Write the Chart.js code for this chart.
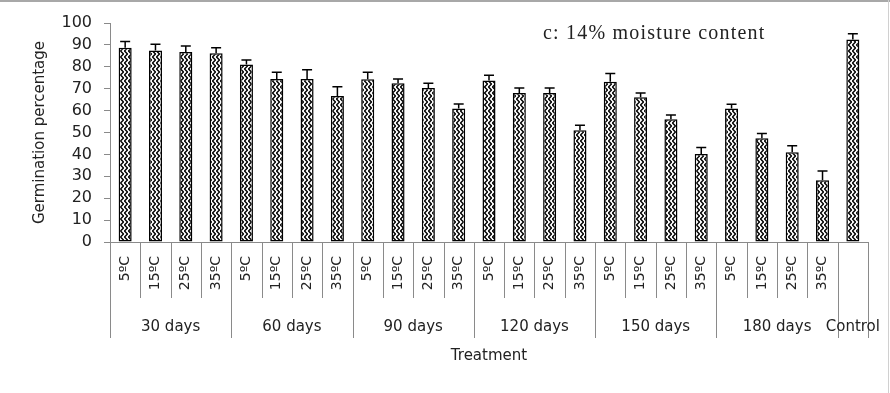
<!DOCTYPE html>
<html>
<head>
<meta charset="utf-8">
<script src="https://cdn.jsdelivr.net/npm/chart.js@4/dist/chart.umd.min.js"></script>
<style>
  html, body { margin: 0; padding: 0; background: #fff; }
  #wrap { width: 890px; height: 393px; }
</style>
</head>
<body>
<div id="wrap"><canvas id="germChart" width="890" height="393"></canvas></div>
<script>
// Data
const tempLabels = ['5ºC', '15ºC', '25ºC', '35ºC', '5ºC', '15ºC', '25ºC', '35ºC', '5ºC', '15ºC', '25ºC', '35ºC',
  '5ºC', '15ºC', '25ºC', '35ºC', '5ºC', '15ºC', '25ºC', '35ºC', '5ºC', '15ºC', '25ºC', '35ºC', ''];
const groupNames = ['30 days', '60 days', '90 days', '120 days', '150 days', '180 days', 'Control'];
const groupSizes = [4, 4, 4, 4, 4, 4, 1];
const germination = [88.7, 87.5, 86.8, 86.2, 81.1, 74.4, 74.4, 66.7, 74.3, 72.5, 70.3, 61.0,
  73.7, 68.0, 68.0, 51.0, 73.2, 66.1, 56.0, 40.2, 61.0, 47.4, 41.0, 28.2, 92.5];
const errors = [2.9, 2.8, 2.7, 2.5, 2.0, 3.1, 4.3, 4.2, 3.2, 1.9, 2.2, 2.0,
  2.4, 2.3, 2.3, 2.3, 3.7, 1.9, 2.0, 3.0, 1.9, 2.1, 3.0, 4.2, 2.6];
const yTicks = [0, 10, 20, 30, 40, 50, 60, 70, 80, 90, 100];

const textColor = '#222';
const axisColor = '#8a8a8a';

// zigzag hatch fill like the original
function makeHatch() {
  const c = document.createElement('canvas');
  c.width = 4;
  c.height = 6;
  const g = c.getContext('2d');
  g.fillStyle = '#fff';
  g.fillRect(0, 0, 4, 6);
  g.strokeStyle = '#000';
  g.lineWidth = 1.4;
  g.beginPath();
  g.moveTo(0.5, -3); g.lineTo(3.5, 0); g.lineTo(0.5, 3); g.lineTo(3.5, 6); g.lineTo(0.5, 9);
  g.stroke();
  return g.createPattern(c, 'repeat');
}

// error bars, separators, group labels, note text
const extrasPlugin = {
  id: 'extras',
  afterDatasetsDraw(chart) {
    const ctx = chart.ctx;
    const meta = chart.getDatasetMeta(0);
    const y = chart.scales.y;
    ctx.save();
    ctx.strokeStyle = '#000';
    ctx.lineWidth = 1.5;
    meta.data.forEach((bar, i) => {
      const top = y.getPixelForValue(germination[i]);
      const end = y.getPixelForValue(germination[i] + errors[i]);
      ctx.beginPath();
      ctx.moveTo(bar.x, top);
      ctx.lineTo(bar.x, end);
      ctx.moveTo(bar.x - 5, end);
      ctx.lineTo(bar.x + 5, end);
      ctx.stroke();
    });
    ctx.restore();
  },
  afterDraw(chart) {
    const ctx = chart.ctx;
    const x = chart.scales.x;
    const base = chart.chartArea.bottom;
    const n = tempLabels.length;
    const edge = i => {
      if (i === 0) return x.left;
      if (i === n) return x.right;
      return (x.getPixelForValue(i - 1) + x.getPixelForValue(i)) / 2;
    };
    const groupEdges = [0];
    groupSizes.forEach(s => groupEdges.push(groupEdges[groupEdges.length - 1] + s));

    ctx.save();
    ctx.strokeStyle = axisColor;
    ctx.lineWidth = 1;
    for (let i = 0; i <= n; i++) {
      const px = Math.round(edge(i)) + 0.5;
      const long = groupEdges.includes(i);
      ctx.beginPath();
      ctx.moveTo(px, base);
      ctx.lineTo(px, base + (long ? 96 : 56));
      ctx.stroke();
    }

    ctx.fillStyle = textColor;
    ctx.font = '15px "DejaVu Sans"';
    ctx.textAlign = 'center';
    ctx.textBaseline = 'middle';
    groupNames.forEach((name, g) => {
      const a = groupEdges[g];
      const b = groupEdges[g + 1] - 1;
      const cx = (x.getPixelForValue(a) + x.getPixelForValue(b)) / 2;
      ctx.fillText(name, cx, base + 85);
    });

    ctx.font = '20px "Liberation Serif"';
    ctx.textAlign = 'left';
    ctx.letterSpacing = '1.2px';
    ctx.fillText('c: 14% moisture content', 543, 34);
    ctx.letterSpacing = '0px';

    // frame edges of the original image
    ctx.strokeStyle = '#a8a8a8';
    ctx.lineWidth = 2;
    ctx.beginPath();
    ctx.moveTo(0, 1);
    ctx.lineTo(890, 1);
    ctx.stroke();
    ctx.strokeStyle = '#d0d0d0';
    ctx.lineWidth = 1;
    ctx.beginPath();
    ctx.moveTo(888.5, 0);
    ctx.lineTo(888.5, 393);
    ctx.stroke();
    ctx.restore();
  }
};

const ctx = document.getElementById('germChart').getContext('2d');
const germChart = new Chart(ctx, {
  type: 'bar',
  data: {
    labels: tempLabels,
    datasets: [{
      label: 'Germination percentage',
      data: germination,
      backgroundColor: makeHatch(),
      borderColor: '#000',
      borderWidth: 1.5,
      borderSkipped: false,
      barPercentage: 0.43,
      categoryPercentage: 1
    }]
  },
  options: {
    responsive: false,
    animation: false,
    layout: { padding: { top: 23, right: 22, left: 0, bottom: 0 } },
    plugins: {
      legend: { display: false },
      tooltip: { enabled: false }
    },
    scales: {
      x: {
        offset: true,
        grid: { display: false },
        border: { color: axisColor, width: 1 },
        ticks: {
          autoSkip: false,
          minRotation: 90,
          maxRotation: 90,
          padding: 6,
          color: textColor,
          font: { family: 'DejaVu Sans', size: 14 }
        },
        title: {
          display: true,
          text: 'Treatment',
          color: textColor,
          font: { family: 'DejaVu Sans', size: 15 },
          padding: { top: 0, bottom: 28 }
        },
        afterFit(scale) { scale.height = 151; }
      },
      y: {
        min: 0,
        max: 100,
        afterBuildTicks(scale) { scale.ticks = yTicks.map(v => ({ value: v })); },
        grid: { drawOnChartArea: false, drawTicks: true, tickLength: 6, color: axisColor },
        border: { color: axisColor, width: 1 },
        ticks: {
          autoSkip: false,
          padding: 12,
          color: textColor,
          font: { family: 'DejaVu Sans', size: 16 }
        },
        title: {
          display: true,
          text: 'Germination percentage',
          color: textColor,
          font: { family: 'DejaVu Sans', size: 15 },
          padding: { top: 31, bottom: 0 }
        },
        afterFit(scale) { scale.width = 110; }
      }
    }
  },
  plugins: [extrasPlugin]
});
</script>
</body>
</html>
